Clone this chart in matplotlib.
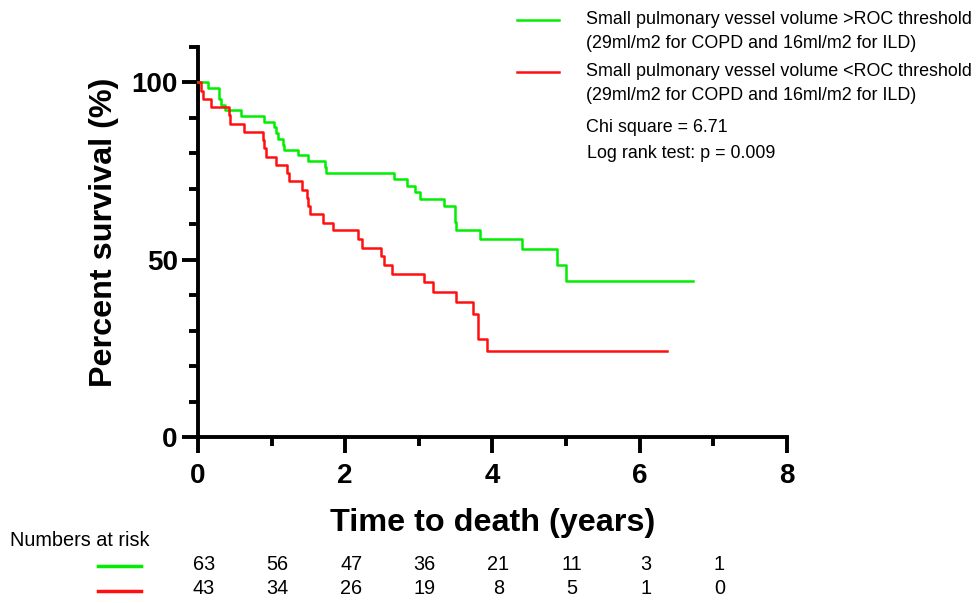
import matplotlib
matplotlib.use("Agg")
import matplotlib.pyplot as plt
from matplotlib.lines import Line2D
from matplotlib.ticker import MultipleLocator
import matplotlib.transforms as mtransforms

# Kaplan-Meier step data (time in years, survival in %)
high_times = [0, 0.14, 0.28, 0.31, 0.36, 0.58, 0.89, 1.03, 1.06, 1.09, 1.15, 1.17,
              1.36, 1.49, 1.73, 1.74, 2.66, 2.84, 2.95, 3.01, 3.34, 3.49, 3.51,
              3.83, 4.40, 4.88, 5.00]
high_surv = [100, 98.4, 95.2, 93.7, 92.1, 90.5, 88.9, 87.3, 85.7, 84.1, 82.5, 81.0,
             79.4, 77.8, 76.2, 74.6, 72.8, 70.9, 69.0, 67.0, 65.1, 60.6, 58.3,
             55.8, 53.0, 48.5, 44.0]
high_end = 6.73

low_times = [0, 0.04, 0.07, 0.17, 0.42, 0.44, 0.63, 0.88, 0.89, 0.92, 1.06, 1.21,
             1.23, 1.41, 1.48, 1.50, 1.52, 1.70, 1.83, 2.17, 2.23, 2.48, 2.52,
             2.64, 3.07, 3.19, 3.50, 3.74, 3.80, 3.92]
low_surv = [100, 97.7, 95.3, 93.0, 90.7, 88.4, 86.0, 83.7, 81.4, 79.1, 76.7, 74.4,
            72.1, 69.8, 67.4, 65.1, 62.8, 60.5, 58.3, 55.9, 53.4, 51.0, 48.6,
            46.1, 43.7, 40.9, 38.1, 34.6, 27.6, 24.2]
low_end = 6.37

risk_times = [0, 1, 2, 3, 4, 5, 6, 7]
risk_high = [63, 56, 47, 36, 21, 11, 3, 1]
risk_low = [43, 34, 26, 19, 8, 5, 1, 0]

label_high = ["Small pulmonary vessel volume >ROC threshold",
              "(29ml/m2 for COPD and 16ml/m2 for ILD)"]
label_low = ["Small pulmonary vessel volume <ROC threshold",
             "(29ml/m2 for COPD and 16ml/m2 for ILD)"]
stats_lines = ["Chi square = 6.71", "Log rank test: p = 0.009"]

GREEN = "#00ee00"
RED = "#ff1010"

W, H = 978, 603
fig = plt.figure(figsize=(W / 100, H / 100), dpi=100)

def fx(px):
    return px / W

def fy(py):
    return 1 - py / H

ax = fig.add_axes([fx(198), fy(437), fx(787) - fx(198), fy(47) - fy(437)])
ax.set_xlim(0, 8)
ax.set_ylim(0, 110)

ax.step(high_times + [high_end], high_surv + [high_surv[-1]], where="post",
        color=GREEN, lw=1.8, clip_on=False, zorder=3)
ax.step(low_times + [low_end], low_surv + [low_surv[-1]], where="post",
        color=RED, lw=1.8, clip_on=False, zorder=3)

for side in ("top", "right"):
    ax.spines[side].set_visible(False)
for side in ("left", "bottom"):
    ax.spines[side].set_linewidth(2.8)
    ax.spines[side].set_capstyle("projecting")

ax.set_xticks([0, 2, 4, 6, 8])
ax.xaxis.set_minor_locator(MultipleLocator(1))
ax.set_yticks([0, 50, 100])
ax.yaxis.set_minor_locator(MultipleLocator(10))
ax.tick_params(which="major", length=11.5, width=2.8, direction="out", pad=6)
ax.tick_params(which="minor", length=6.5, width=2.8, direction="out")
ax.tick_params(axis="x", which="major", pad=7)
ax.tick_params(axis="y", which="major", pad=3)

bold = dict(family="Liberation Sans", weight="bold")
for lab in ax.get_xticklabels() + ax.get_yticklabels():
    lab.set_fontsize(20)
    lab.set_fontfamily("Liberation Sans")
    lab.set_fontweight("bold")

ax.set_xlabel("Time to death (years)", fontsize=23.3, labelpad=14, **bold)
ax.set_ylabel("Percent survival (%)", fontsize=23.3, **bold)
ax.yaxis.set_label_coords(-0.134, 0.526)

# Legend block at top right
leg_font = dict(family="Liberation Sans", fontsize=12.9)
for color, lines, ly in ((GREEN, label_high, 20), (RED, label_low, 72)):
    fig.add_artist(Line2D([fx(517), fx(559)], [fy(ly), fy(ly)], color=color,
                          lw=1.8, transform=fig.transFigure))
    fig.text(fx(586), fy(ly), lines[0], va="center", ha="left", **leg_font)
    fig.text(fx(586), fy(ly + 23), lines[1], va="center", ha="left", **leg_font)
fig.text(fx(586), fy(127), stats_lines[0], va="center", ha="left", **leg_font)
fig.text(fx(587), fy(153), stats_lines[1], va="center", ha="left", **leg_font)

# Numbers at risk table
narrow = ["Liberation Sans Narrow", "Liberation Sans"]
fig.text(fx(10), fy(540), "Numbers at risk", va="center", ha="left",
         family=narrow, fontsize=14.3)
trans = mtransforms.blended_transform_factory(ax.transData, fig.transFigure)
for color, counts, ry in ((GREEN, risk_high, 564), (RED, risk_low, 589)):
    fig.add_artist(Line2D([fx(98), fx(141)], [fy(ry + 2), fy(ry + 2)], color=color,
                          lw=2.5, transform=fig.transFigure))
    for t, n in zip(risk_times, counts):
        ax.text(t + 0.08, fy(ry), str(n), transform=trans, ha="center",
                va="center", family=narrow, fontsize=14.3, clip_on=False)

fig.savefig("out.png", dpi=100)
